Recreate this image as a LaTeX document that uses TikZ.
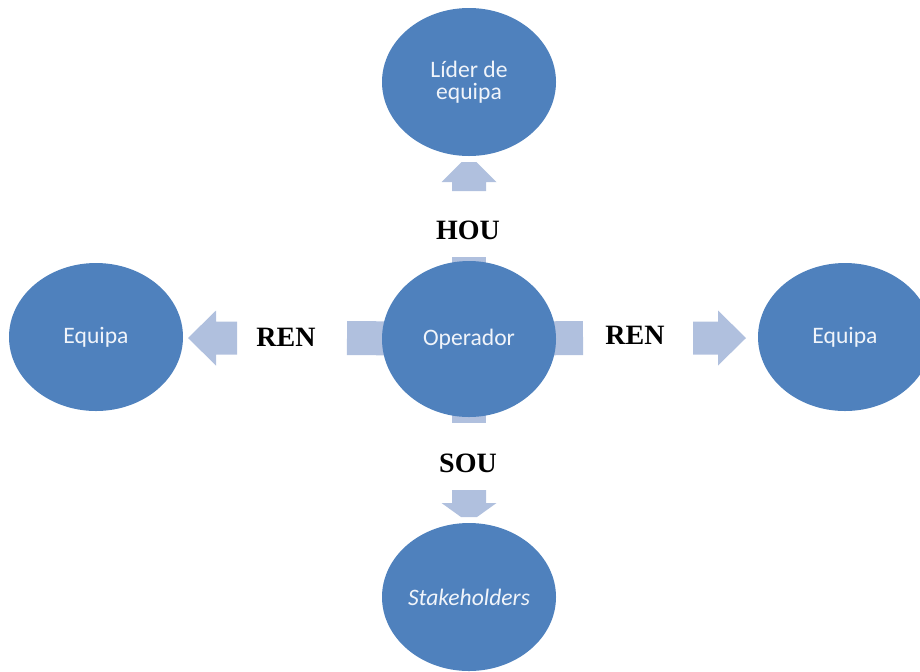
\documentclass[tikz,border=0pt]{standalone}
\usepackage{fontspec}
\setmainfont{Liberation Serif}
\newfontfamily\bodyfont{Carlito}
\usetikzlibrary{shapes.geometric,backgrounds}
\definecolor{discblue}{HTML}{4F81BD}
\definecolor{arrowblue}{RGB}{176,192,222}
\definecolor{disctext}{RGB}{240,244,250}

\begin{document}
\begin{tikzpicture}[x=0.5pt,y=-0.5pt,
  disc/.style={ellipse, fill=discblue, inner sep=0pt,
    minimum width=87pt, minimum height=74pt, text=disctext,
    font=\bodyfont\fontsize{11.8}{11}\selectfont, align=center},
  stub/.style={draw=arrowblue, line width=17pt},
  head/.style={fill=arrowblue},
  tag/.style={font=\bfseries\fontsize{14}{16}\selectfont, text=black, inner sep=0pt}]
\useasboundingbox (0,0) rectangle (920,671);
\clip (0,0) rectangle (920,671);

% ellipses
\node[disc, minimum height=78pt] (op) at (469,339) {Operador};
\node[disc] (lider) at (469,82) {Líder de\\equipa};
\node[disc] (stake) at (469,597) {\itshape Stakeholders};
\node[disc] (eqL) at (96,337) {Equipa};
\node[disc] (eqR) at (845,337) {Equipa};

% ends of the arrow pieces on each side of the labels
\coordinate (houA) at (469,257);  \coordinate (houB) at (469,191);
\coordinate (souA) at (469,423);  \coordinate (souB) at (469,490);
\coordinate (renLA) at (347,338); \coordinate (renLB) at (237,338);
\coordinate (renRA) at (583,338); \coordinate (renRB) at (693,338);

% tails leaving the centre ellipse
\begin{scope}[on background layer]
  \draw[stub] (op.center) -- (houA);
  \draw[stub] (op.center) -- (souA);
  \draw[stub] (op.center) -- (renLA);
  \draw[stub] (op.center) -- (renRA);
\end{scope}

% block-arrow heads
\fill[head] (houB) -- ++(-17,0) -- ++(0,-9) -- ++(-10.5,0) -- ++(20,-20)
  -- ++(15,0) -- ++(20,20) -- ++(-10.5,0) -- ++(0,9) -- cycle;
\fill[head] (souB) -- ++(-17,0) -- ++(0,13) -- ++(-10.5,0) -- ++(19.5,14)
  -- ++(16,0) -- ++(19.5,-14) -- ++(-10.5,0) -- ++(0,-13) -- cycle;
\fill[head] (renLB) -- ++(0,-16.5) -- ++(-21,0) -- ++(0,-11) -- ++(-28,27.5)
  -- ++(28,27.5) -- ++(0,-11) -- ++(21,0) -- cycle;
\fill[head] (renRB) -- ++(0,-16.5) -- ++(25,0) -- ++(0,-11) -- ++(28,27.5)
  -- ++(-28,27.5) -- ++(0,-11) -- ++(-25,0) -- cycle;

% relation labels
\node[tag] (hou) at (468,230) {HOU};
\node[tag] (sou) at (468,463) {SOU};
\node[tag] (renL) at (286,337) {REN};
\node[tag] (renR) at (635,335) {REN};
\end{tikzpicture}
\end{document}
